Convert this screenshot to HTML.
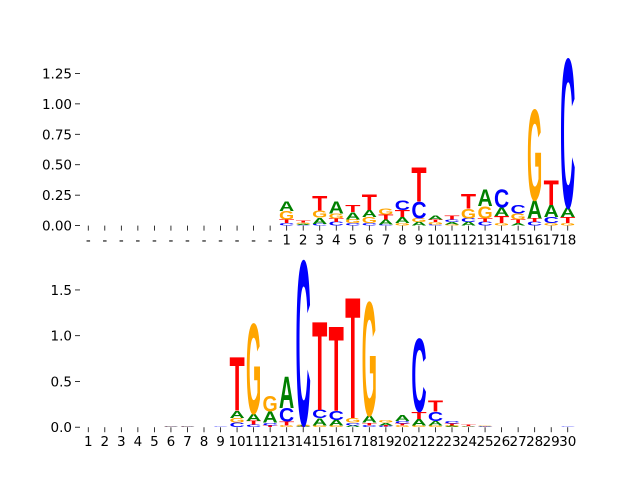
<!DOCTYPE html>
<html><head><meta charset="utf-8"><style>
body{margin:0;background:#fff}
svg text{font-family:"DejaVu Sans","Liberation Sans",sans-serif}
</style></head><body>
<svg id="c" width="640" height="480" xmlns="http://www.w3.org/2000/svg">
<rect width="640" height="480" fill="#fff"/>
<g id="top"></g>
<g id="bot"></g>
</svg>
<script>
// Top logo data (positions 0..29), heights in bits
const topLabels = ["-","-","-","-","-","-","-","-","-","-","-","-","1","2","3","4","5","6","7","8","9","10","11","12","13","14","15","16","17","18"];
const topA = [0,0,0,0,0,0,0,0,0,0,0,0,0.08,0.01,0.05,0.10,0.06,0.06,0.04,0.05,0.03,0.03,0.02,0.03,0.14,0.07,0.02,0.15,0.10,0.08];
const topC = [0,0,0,0,0,0,0,0,0,0,0,0,0.02,0.005,0.015,0.03,0.02,0.02,0.01,0.08,0.14,0.01,0.02,0.03,0.03,0.15,0.07,0.03,0.05,1.23];
const topG = [0,0,0,0,0,0,0,0,0,0,0,0,0.07,0.01,0.06,0.04,0.03,0.05,0.05,0.02,0.03,0.02,0.01,0.08,0.10,0.02,0.05,0.75,0.02,0.02];
const topT = [0,0,0,0,0,0,0,0,0,0,0,0,0.03,0.015,0.12,0.03,0.06,0.13,0.04,0.06,0.28,0.02,0.03,0.12,0.03,0.06,0.03,0.03,0.20,0.05];
const topTicks = [0,0.25,0.5,0.75,1.0,1.25];
// Bottom logo data
const botLabels = ["1","2","3","4","5","6","7","8","9","10","11","12","13","14","15","16","17","18","19","20","21","22","23","24","25","26","27","28","29","30"];
const botA = [0,0,0,0,0,0.003,0.003,0,0,0.08,0.08,0.12,0.35,0.01,0.08,0.06,0.02,0.08,0.03,0.06,0.07,0.05,0.01,0.005,0.005,0,0,0,0,0];
const botC = [0,0,0,0,0,0.003,0.003,0,0.004,0.05,0.03,0.03,0.15,1.81,0.09,0.10,0.03,0.02,0.01,0.03,0.80,0.10,0.03,0.005,0.004,0,0,0,0,0.004];
const botG = [0,0,0,0,0,0.003,0.003,0,0,0.05,0.99,0.17,0.02,0.01,0.02,0.02,0.05,1.25,0.03,0.02,0.02,0.02,0.01,0.005,0.005,0,0,0,0,0];
const botT = [0,0,0,0,0,0,0,0,0,0.59,0.04,0.02,0.04,0.005,0.97,0.93,1.33,0.03,0.01,0.02,0.08,0.12,0.02,0.01,0.003,0,0,0,0,0];
const botTicks = [0,0.5,1.0,1.5];

const NS="http://www.w3.org/2000/svg";
const colors={A:"#008000",C:"#0000ff",G:"#ffa500",T:"#ff0000"};
function el(tag,attrs,parent){const e=document.createElementNS(NS,tag);for(const k in attrs)e.setAttribute(k,attrs[k]);parent.appendChild(e);return e;}

function drawLogo(g,cfg){
  const x0=80,x1=576,n=30;
  const xs=i=>x0+(i+0.5)*(x1-x0)/n;
  const ys=v=>cfg.yb-(v/cfg.ymax)*(cfg.yb-cfg.yt);
  const step=(x1-x0)/n;
  cfg.ticks.forEach((t,k)=>{
    const y=ys(t);
    const tk=el("line",{x1:75,x2:80,y1:y,y2:y,stroke:"#000","stroke-width":0.8},g);
    
    
    const lb=el("text",{x:72,y:y+5,"text-anchor":"end","font-size":"13.5px",fill:"#000"},g);
    lb.textContent=cfg.tickText[k];
    
    
  });
  cfg.labels.forEach((l,i)=>{
    const x=xs(i);
    const tk=el("line",{x1:x,x2:x,y1:cfg.yb,y2:cfg.yb+5,stroke:"#000","stroke-width":0.8},g);
    
    
    const lb=el("text",{x:x,y:cfg.yb+19,"text-anchor":"middle","font-size":"13.5px",fill:"#000"},g);
    lb.textContent=l;
    
    
  });
  for(let i=0;i<n;i++){
    const items=[["A",cfg.A[i]],["C",cfg.C[i]],["G",cfg.G[i]],["T",cfg.T[i]]].filter(d=>d[1]>0).sort((a,b)=>a[1]-b[1]);
    let cum=0;
    items.forEach(([ch,h])=>{
      const yBot=ys(cum),yTop=ys(cum+h);cum+=h;
      const w=step*0.92,xl=xs(i)-w/2;
      const t=el("text",{x:0,y:0,"font-size":"100px","font-weight":"bold",fill:colors[ch],style:"font-family:'Liberation Sans',sans-serif"},g);
      t.textContent=ch;
      
      
      const bb=t.getBBox();
      const capH=70, ink=bb.width;
      const sx=w/ink, sy=(yBot-yTop)/capH;
      t.setAttribute("transform",`translate(${xl-bb.x*sx},${yBot}) scale(${sx},${sy})`);
    });
  }
}
const gT=document.getElementById("top"),gB=document.getElementById("bot");
drawLogo(gT,{yt:57.6,yb:225.6,ymax:1.38,ticks:topTicks,tickText:["0.00","0.25","0.50","0.75","1.00","1.25"],labels:topLabels,A:topA,C:topC,G:topG,T:topT});
drawLogo(gB,{yt:259.2,yb:427.2,ymax:1.836,ticks:botTicks,tickText:["0.0","0.5","1.0","1.5"],labels:botLabels,A:botA,C:botC,G:botG,T:botT});
</script>
</body></html>
